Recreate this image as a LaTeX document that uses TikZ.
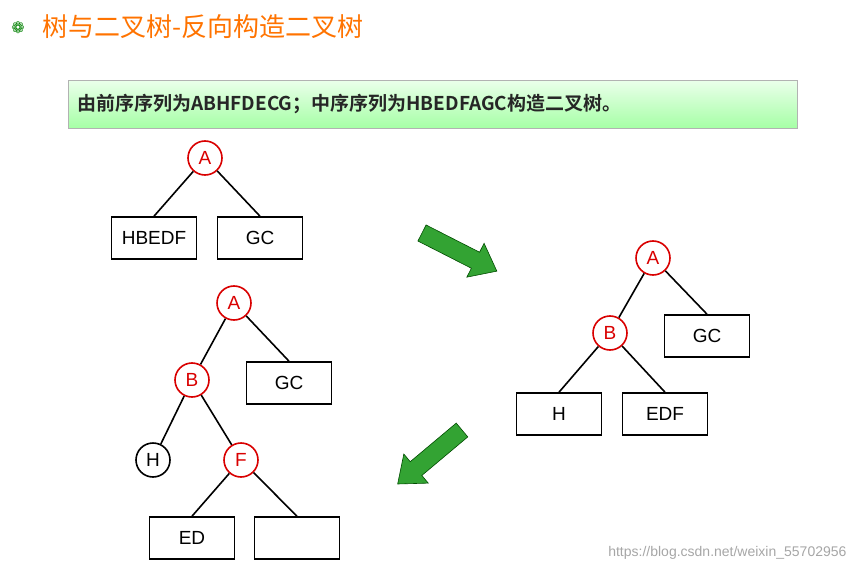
\documentclass[tikz,border=0pt]{standalone}
\usepackage{fontspec}
\setmainfont{Liberation Sans}
\newfontfamily\cjk{Noto Sans CJK SC}[BoldFont={Noto Sans CJK SC Bold}]
\newfontfamily\dejavu{DejaVu Sans}
\begin{document}
\begin{tikzpicture}[x=1pt,y=-1pt,
  rn/.style={circle,draw=red!85!black,line width=1.6pt,fill=white,minimum size=34pt,inner sep=0pt,text=red!85!black,font=\fontsize{19}{19}\selectfont},
  bn/.style={circle,draw=black,line width=1.6pt,fill=white,minimum size=34pt,inner sep=0pt,font=\fontsize{19}{19}\selectfont},
  bx/.style={draw,line width=1.6pt,minimum width=85pt,minimum height=42pt,inner sep=0pt,font=\fontsize{19}{19}\selectfont},
  ed/.style={line width=1.6pt},
  garrow/.style={draw=green!30!black,fill=green!55!black!80,line width=0.6pt}]
\useasboundingbox (0,0) rectangle (858,569);
\node[text=green!50!black,font=\dejavu\fontsize{16}{16}\selectfont] (bul) at (18,28) {❁};
\node[anchor=west,text=orange!90!red,font=\cjk\fontsize{26}{26}\selectfont,inner sep=0pt] (title) at (42,27) {树与二叉树-反向构造二叉树};
\node[draw=gray!60,top color=green!8,bottom color=green!35!white,minimum width=729pt,minimum height=48pt,anchor=north west,inner sep=0pt] (ban) at (68,80) {};
\node[anchor=west,font=\cjk\bfseries\fontsize{19}{19}\selectfont,inner sep=0pt,text=black!85] (bt) at (77,104) {由前序序列为ABHFDECG；中序序列为HBEDFAGC构造二叉树。};
% tree 1
\node[bx] (t1l) at (154,238) {HBEDF};
\node[bx] (t1r) at (260,238) {GC};
\node[rn] (t1a) at (205,158) {A};
\draw[ed] (t1a) -- (t1l.north); \draw[ed] (t1a) -- (t1r.north);
% arrows
\begin{scope}[shift={(422,233)},rotate=-27]
\draw[garrow] (0,-9) -- (60,-9) -- (60,-19) -- (84,0) -- (60,19) -- (60,9) -- (0,9) -- cycle;
\end{scope}
\begin{scope}[shift={(462,430)},rotate=-140]
\draw[garrow] (0,-9) -- (60,-9) -- (60,-19) -- (84,0) -- (60,19) -- (60,9) -- (0,9) -- cycle;
\end{scope}
% tree 2
\node[bx] (t2gc) at (707,336) {GC};
\node[bx] (t2h) at (559,414) {H};
\node[bx] (t2e) at (665,414) {EDF};
\node[rn] (t2a) at (653,258) {A};
\node[rn] (t2b) at (610,333) {B};
\draw[ed] (t2a) -- (t2b); \draw[ed] (t2a) -- (t2gc.north);
\draw[ed] (t2b) -- (t2h.north); \draw[ed] (t2b) -- (t2e.north);
% tree 3
\node[bx] (t3gc) at (289,383) {GC};
\node[bx] (t3ed) at (192,538) {ED};
\node[bx] (t3em) at (297,538) {};
\node[rn] (t3a) at (234,303) {A};
\node[rn] (t3b) at (192,380) {B};
\node[bn] (t3h) at (153,460) {H};
\node[rn] (t3f) at (241,460) {F};
\draw[ed] (t3a) -- (t3b); \draw[ed] (t3a) -- (t3gc.north);
\draw[ed] (t3b) -- (t3h); \draw[ed] (t3b) -- (t3f);
\draw[ed] (t3f) -- (t3ed.north); \draw[ed] (t3f) -- (t3em.north);
\node[anchor=east,text=gray!70,font=\fontsize{14}{14}\selectfont] (wm) at (850,553) {https://blog.csdn.net/weixin\_55702956};
\end{tikzpicture}
\end{document}
